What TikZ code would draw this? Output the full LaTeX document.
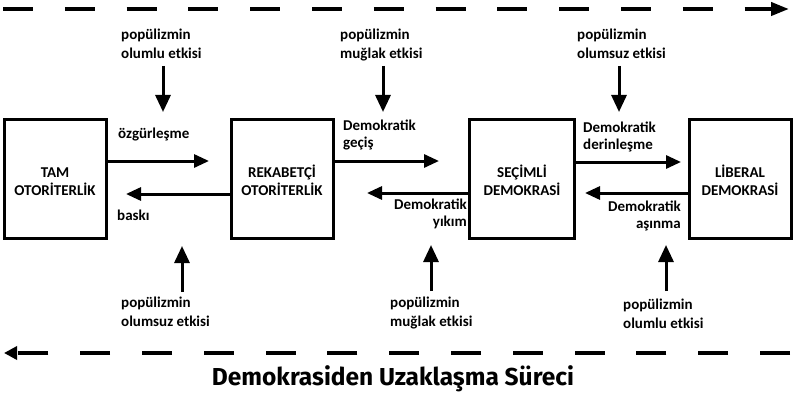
\documentclass[tikz,border=0pt]{standalone}
\usepackage{fontspec}
\setmainfont{Carlito}
\newfontfamily\titlefont{Fira Sans}
\usetikzlibrary{arrows.meta}
\begin{document}
\begin{tikzpicture}[x=1pt,y=-1pt,
  box/.style={draw, line width=3pt, minimum width=102pt, minimum height=119pt, inner sep=0pt},
  boxtext/.style={inner sep=0pt, align=center, font=\bfseries\fontsize{15}{18}\selectfont},
  lbl/.style={inner sep=0pt, font=\bfseries\fontsize{15}{19}\selectfont},
  dlbl/.style={inner sep=0pt, font=\bfseries\fontsize{15}{17}\selectfont},
  arr/.style={line width=3pt, -{Triangle[length=15pt,width=13pt]}},
  varr/.style={line width=3pt, -{Triangle[length=17pt,width=15pt]}},
  dashline/.style={line width=4pt, dash pattern=on 30pt off 31.8pt}
]
\useasboundingbox (0,0) rectangle (794,401);

% boxes
\node[box] (tam) at (55,179) {};
\node[box] (rek) at (282,179) {};
\node[box, minimum width=105pt] (sec) at (522,179) {};
\node[box] (lib) at (740,179) {};
\node[boxtext, anchor=base] (tamt) at (55,195) {TAM\\OTORİTERLİK};
\node[boxtext, anchor=base] (rekt) at (282,195) {REKABETÇİ\\OTORİTERLİK};
\node[boxtext, anchor=base] (sect) at (522,195) {SEÇİMLİ\\DEMOKRASİ};
\node[boxtext, anchor=base] (libt) at (740,195) {LİBERAL\\DEMOKRASİ};

% horizontal arrow tips
\coordinate (t1) at (209,161);
\coordinate (t2) at (126,194);
\coordinate (t3) at (439,161);
\coordinate (t4) at (367,193);
\coordinate (t5) at (681,162);
\coordinate (t6) at (585,193);

\draw[arr] (tam.east |- t1) -- (t1);
\draw[arr] (rek.west |- t2) -- (t2);
\draw[arr] (rek.east |- t3) -- (t3);
\draw[arr] (sec.west |- t4) -- (t4);
\draw[arr] (sec.east |- t5) -- (t5);
\draw[arr] (lib.west |- t6) -- (t6);

% arrow labels (anchor = baseline of last line)
\node[lbl, anchor=base west] (l1) at (118,138) {özgürleşme};
\node[lbl, anchor=base west] (l2) at (117,220) {baskı};
\node[dlbl, anchor=base west, align=left] (l3) at (343,147) {Demokratik\\geçiş};
\node[dlbl, anchor=base east, align=right] (l4) at (467,226) {Demokratik\\yıkım};
\node[dlbl, anchor=base west, align=left] (l5) at (583,149) {Demokratik\\derinleşme};
\node[dlbl, anchor=base east, align=right] (l6) at (681,228) {Demokratik\\aşınma};

% populism labels
\node[lbl, anchor=base west, align=left] (p1) at (121,59) {popülizmin\\olumlu etkisi};
\node[lbl, anchor=base west, align=left] (p2) at (340,59) {popülizmin\\muğlak etkisi};
\node[lbl, anchor=base west, align=left] (p3) at (577,59) {popülizmin\\olumsuz etkisi};
\node[lbl, anchor=base west, align=left] (p4) at (121,326) {popülizmin\\olumsuz etkisi};
\node[lbl, anchor=base west, align=left] (p5) at (390,326) {popülizmin\\muğlak etkisi};
\node[lbl, anchor=base west, align=left] (p6) at (623,328) {popülizmin\\olumlu etkisi};

% vertical arrows
\coordinate (a1s) at (163,66);  \coordinate (a1e) at (163,112);
\coordinate (a2s) at (383,66);  \coordinate (a2e) at (383,112);
\coordinate (a3s) at (619,66);  \coordinate (a3e) at (619,112);
\coordinate (a4s) at (182,292); \coordinate (a4e) at (182,246);
\coordinate (a5s) at (431,291); \coordinate (a5e) at (431,245);
\coordinate (a6s) at (666,291); \coordinate (a6e) at (666,245);
\draw[varr] (a1s) -- (a1e);
\draw[varr] (a2s) -- (a2e);
\draw[varr] (a3s) -- (a3e);
\draw[varr] (a4s) -- (a4e);
\draw[varr] (a5s) -- (a5e);
\draw[varr] (a6s) -- (a6e);

% dashed process lines
\coordinate (ds) at (3,9);   \coordinate (de) at (789,9);
\coordinate (bs) at (790,353); \coordinate (be) at (4,353);
\draw[dashline, -{Triangle[length=18pt,width=13pt]}] (ds) -- (de);
\draw[dashline, -{Triangle[length=13pt,width=13pt]}] (bs) -- (be);

% title
\node[inner sep=0pt, anchor=base, font=\titlefont\bfseries\fontsize{24.5}{28}\selectfont] (title) at (393,385) {Demokrasiden Uzaklaşma Süreci};
\end{tikzpicture}
\end{document}
